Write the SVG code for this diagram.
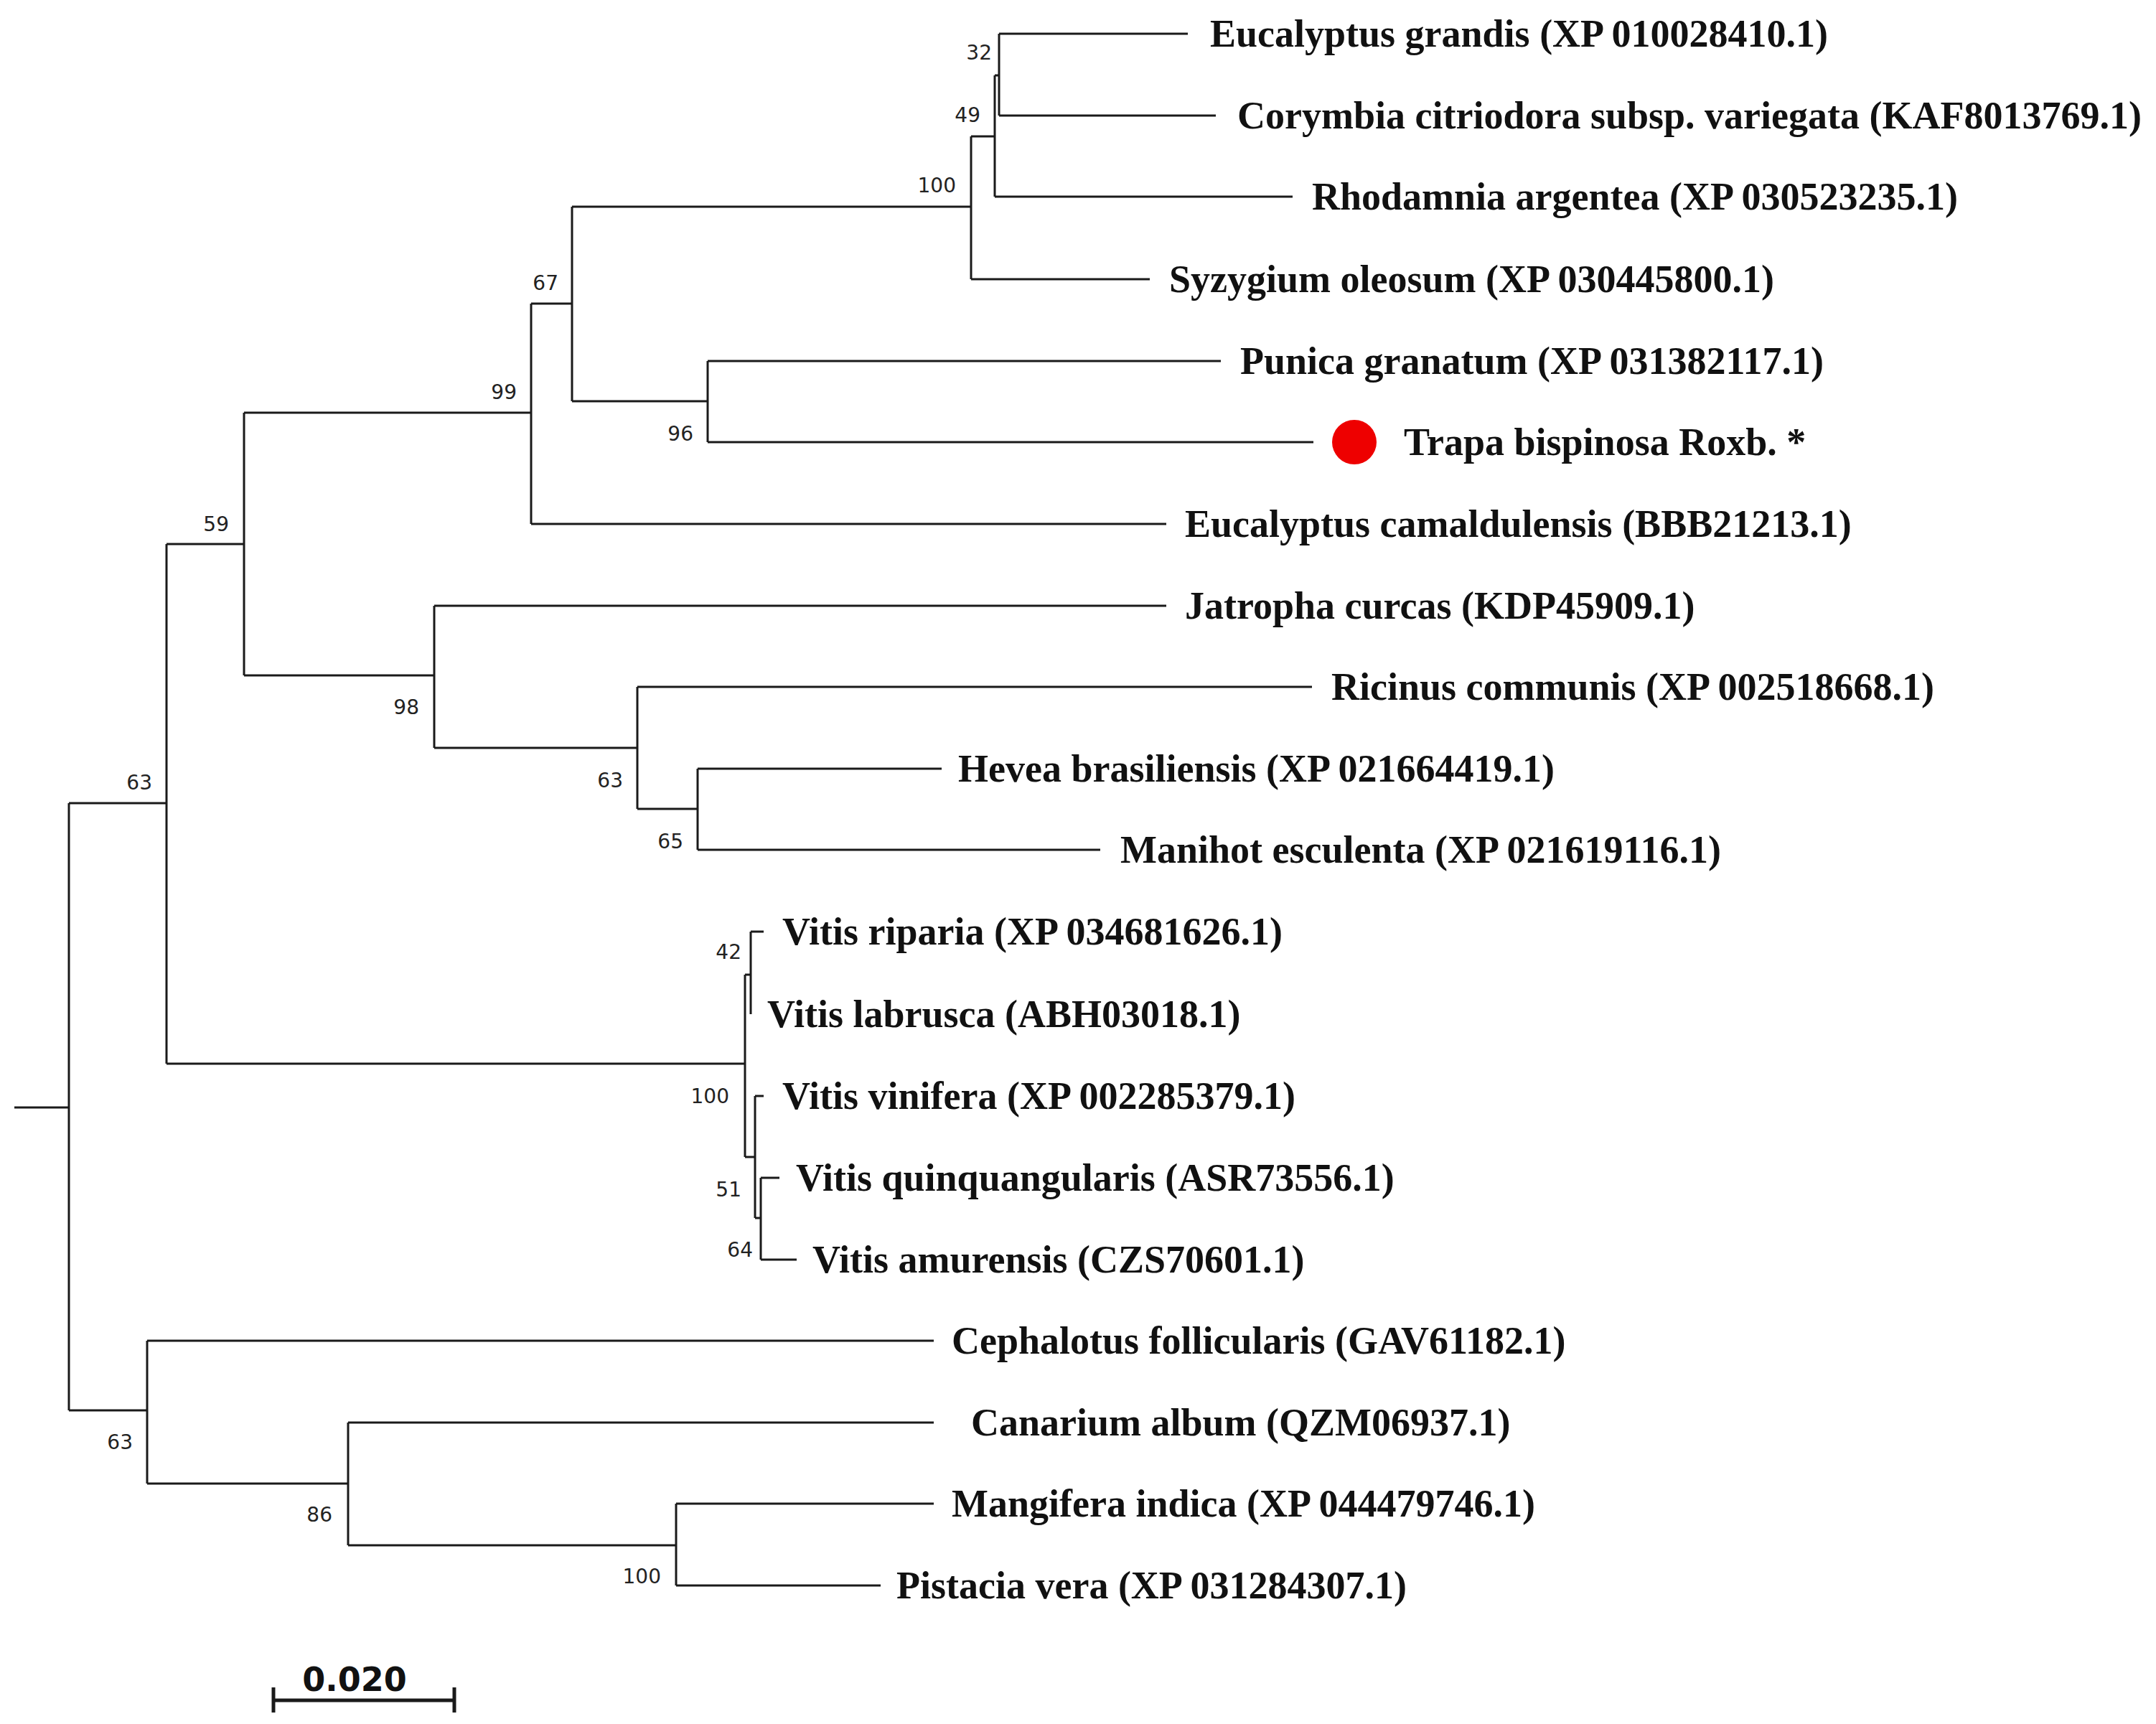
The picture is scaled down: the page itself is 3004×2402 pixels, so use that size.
<svg xmlns="http://www.w3.org/2000/svg" width="3004" height="2402" viewBox="0 0 3004 2402">
<style>
.e{fill:none;stroke:#1a1a1a;stroke-width:3}
.t{font-family:"Liberation Serif","Times New Roman",serif;font-weight:bold;font-size:54px;fill:#111}
.b{font-family:"DejaVu Sans","Liberation Sans",sans-serif;font-size:28px;fill:#222;text-anchor:end}
</style>
<rect width="3004" height="2402" fill="#fff"/>
<g id="edges" class="e">
<path d="M20 1543H96M96 1119V1965M96 1119H232M96 1965H205"/>
<path d="M232 758V1482M232 758H340M232 1482H1038"/>
<path d="M340 575V941M340 575H740M340 941H605"/>
<path d="M740 423V730M740 423H797M740 730H1625"/>
<path d="M797 288V559M797 288H1353M797 559H986"/>
<path d="M1353 190V389M1353 190H1386M1353 389H1602"/>
<path d="M1386 105V274M1386 105H1392M1386 274H1801"/>
<path d="M1392 47V161M1392 47H1655M1392 161H1694"/>
<path d="M986 503V616M986 503H1701M986 616H1830"/>
<path d="M605 844V1042M605 844H1625M605 1042H888"/>
<path d="M888 957V1127M888 957H1828M888 1127H972"/>
<path d="M972 1071V1184M972 1071H1312M972 1184H1533"/>
<path d="M1038 1358V1612M1038 1358H1046M1038 1612H1052"/>
<path d="M1046 1298V1413M1046 1298H1064"/>
<path d="M1052 1527V1697M1052 1527H1064M1052 1697H1060"/>
<path d="M1060 1641V1755M1060 1641H1086M1060 1755H1110"/>
<path d="M205 1868V2067M205 1868H1301M205 2067H485"/>
<path d="M485 1982V2153M485 1982H1301M485 2153H942"/>
<path d="M942 2095V2209M942 2095H1301M942 2209H1227"/>
</g>
<g id="bootstrap" class="b">
<text x="1382" y="83">32</text><text x="1366" y="170">49</text><text x="1332" y="268">100</text>
<text x="778" y="404">67</text><text x="720" y="556">99</text><text x="966" y="614">96</text>
<text x="319" y="740">59</text><text x="584" y="995">98</text><text x="868" y="1097">63</text>
<text x="952" y="1182">65</text><text x="212" y="1100">63</text><text x="1033" y="1336">42</text>
<text x="1016" y="1537">100</text><text x="1033" y="1667">51</text><text x="1049" y="1751">64</text>
<text x="185" y="2019">63</text><text x="463" y="2120">86</text><text x="921" y="2206">100</text>
</g>
<g id="n1"><text class="t" x="1686" y="65">Eucalyptus grandis (XP 010028410.1)</text></g>
<g id="n2"><text class="t" x="1724" y="179">Corymbia citriodora subsp. variegata (KAF8013769.1)</text></g>
<g id="n3"><text class="t" x="1828" y="292">Rhodamnia argentea (XP 030523235.1)</text></g>
<g id="n4"><text class="t" x="1629" y="407">Syzygium oleosum (XP 030445800.1)</text></g>
<g id="n5"><text class="t" x="1728" y="521">Punica granatum (XP 031382117.1)</text></g>
<g id="n6"><circle cx="1887" cy="616" r="31" fill="#ee0000"/><text class="t" x="1956" y="634">Trapa bispinosa Roxb. *</text></g>
<g id="n7"><text class="t" x="1651" y="748">Eucalyptus camaldulensis (BBB21213.1)</text></g>
<g id="n8"><text class="t" x="1651" y="862">Jatropha curcas (KDP45909.1)</text></g>
<g id="n9"><text class="t" x="1855" y="975">Ricinus communis (XP 002518668.1)</text></g>
<g id="n10"><text class="t" x="1335" y="1089">Hevea brasiliensis (XP 021664419.1)</text></g>
<g id="n11"><text class="t" x="1561" y="1202">Manihot esculenta (XP 021619116.1)</text></g>
<g id="n12"><text class="t" x="1090" y="1316">Vitis riparia (XP 034681626.1)</text></g>
<g id="n13"><text class="t" x="1069" y="1431">Vitis labrusca (ABH03018.1)</text></g>
<g id="n14"><text class="t" x="1090" y="1545">Vitis vinifera (XP 002285379.1)</text></g>
<g id="n15"><text class="t" x="1109" y="1659">Vitis quinquangularis (ASR73556.1)</text></g>
<g id="n16"><text class="t" x="1132" y="1773">Vitis amurensis (CZS70601.1)</text></g>
<g id="n17"><text class="t" x="1326" y="1886">Cephalotus follicularis (GAV61182.1)</text></g>
<g id="n18"><text class="t" x="1353" y="2000">Canarium album (QZM06937.1)</text></g>
<g id="n19"><text class="t" x="1326" y="2113">Mangifera indica (XP 044479746.1)</text></g>
<g id="n20"><text class="t" x="1249" y="2227">Pistacia vera (XP 031284307.1)</text></g>
<g id="scale">
<path d="M381 2369H633M381 2351V2386M633 2351V2386" fill="none" stroke="#1a1a1a" stroke-width="5"/>
<text x="494" y="2356" text-anchor="middle" style="font-family:'DejaVu Sans','Liberation Sans',sans-serif;font-weight:bold;font-size:46px;fill:#111">0.020</text>
</g>
</svg>
